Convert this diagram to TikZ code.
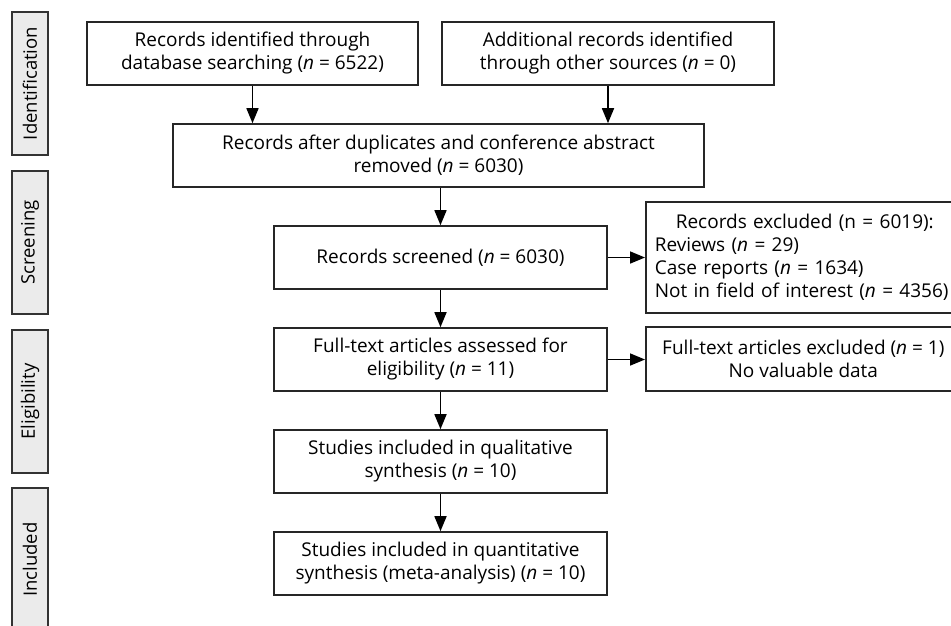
\documentclass[tikz,border=0pt]{standalone}
\usepackage{fontspec}
\setmainfont{Open Sans}
\usetikzlibrary{arrows.meta}
\tikzset{
  box/.style={draw=black!85, line width=1.6pt, fill=white, minimum height=63pt, inner sep=0pt, align=center, font=\fontsize{19}{23}\selectfont},
  sidebox/.style={draw=black!80, line width=1.6pt, fill=black!8, rotate=90, minimum height=36pt, inner sep=0pt, font=\fontsize{18.5}{20}\selectfont},
  arr/.style={draw=black, line width=1.6pt, -{Triangle[length=15pt,width=12pt]}}
}
\begin{document}
\begin{tikzpicture}[x=1pt,y=-1pt]
\useasboundingbox (0,0) rectangle (951,625);
\clip (0,0) rectangle (951,625);
% side labels
\node[sidebox, minimum width=143pt] (sid) at (30,83.5) {Identification};
\node[sidebox, minimum width=143pt] (sscr) at (30,242.5) {Screening};
\node[sidebox, minimum width=143pt] (selig) at (30,401.5) {Eligibility};
\node[sidebox, minimum width=143pt] (sinc) at (30,559.5) {Included};
% main boxes
\node[box, minimum width=331pt] (b1) at (252.5,53.5) {Records identified through\\database searching (\textit{n} = 6522)};
\node[box, minimum width=332pt] (b2) at (608,53.5) {Additional records identified\\through other sources (\textit{n} = 0)};
\node[box, minimum width=531pt] (b3) at (438.5,155.5) {Records after duplicates and conference abstract\\removed (\textit{n} = 6030)};
\node[box, minimum width=333pt] (b4) at (440.5,257.5) {Records screened (\textit{n} = 6030)};
\node[box, minimum width=333pt] (b5) at (440.5,359.5) {Full-text articles assessed for\\eligibility (\textit{n} = 11)};
\node[box, minimum width=333pt] (b6) at (440.5,461.5) {Studies included in qualitative\\synthesis (\textit{n} = 10)};
\node[box, minimum width=333pt] (b7) at (440.5,563.5) {Studies included in quantitative\\synthesis (meta-analysis) (\textit{n} = 10)};
% exclusion boxes
\node[box, anchor=west, minimum width=315pt, minimum height=111pt, text width=300pt, inner xsep=9pt, align=left] (e1) at (645,257.5)
  {\makebox[\linewidth][c]{Records excluded (n = 6019):}\\Reviews (\textit{n} = 29)\\Case reports (\textit{n} = 1634)\\Not in field of interest (\textit{n} = 4356)};
\node[box, anchor=west, minimum width=315pt, minimum height=64pt] (e2) at (645,359)
  {Full-text articles excluded (\textit{n} = 1)\\No valuable data};
% connectors
\draw[arr] (b1.south) -- (b1.south |- b3.north);
\draw[arr] (b2.south) -- (b2.south |- b3.north);
\draw[arr] (b3.south -| b4.north) -- (b4.north);
\draw[arr] (b4.south) -- (b5.north);
\draw[arr] (b5.south) -- (b6.north);
\draw[arr] (b6.south) -- (b7.north);
\draw[arr] (b4.east) -- (b4.east -| e1.west);
\draw[arr] (b5.east) -- (b5.east -| e2.west);
\end{tikzpicture}
\end{document}
